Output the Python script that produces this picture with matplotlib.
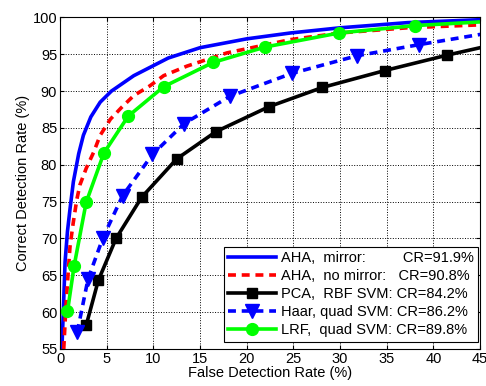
import matplotlib
matplotlib.use("Agg")
import matplotlib.pyplot as plt

plt.rcParams['font.family'] = ['Liberation Sans', 'DejaVu Sans']

# AHA with mirror (smooth curve)
aha_m_x = [0.2, 0.35, 0.54, 0.8, 1.07, 1.43, 2.0, 2.5, 3.3, 4.3, 5.5, 7.9, 11.6, 15.0, 20.0, 24.7, 30.0, 37.2, 45.0]
aha_m_y = [55.0, 60.0, 66.8, 71.0, 74.0, 77.7, 81.5, 84.0, 86.5, 88.5, 90.0, 92.1, 94.5, 95.9, 97.1, 97.9, 98.6, 99.3, 99.7]

# AHA without mirror
aha_n_x = [0.4, 0.6, 0.8, 1.07, 1.4, 1.8, 2.14, 2.8, 3.6, 4.3, 5.4, 6.6, 7.9, 9.6, 11.1, 13.6, 17.9, 24.7, 30.0, 37.2, 45.0]
aha_n_y = [55.0, 60.0, 64.0, 68.9, 72.0, 75.3, 77.3, 79.5, 81.7, 84.0, 86.2, 87.8, 89.4, 90.7, 92.1, 93.4, 95.2, 97.0, 97.9, 98.6, 99.0]

# PCA, RBF SVM
pca_x = [2.8, 4.1, 6.0, 8.75, 12.5, 16.7, 22.4, 28.1, 34.8, 41.5, 45.0]
pca_y = [58.2, 64.3, 70.0, 75.6, 80.8, 84.5, 87.9, 90.5, 92.8, 94.9, 95.9]

# Haar, quad SVM
haar_x = [1.85, 3.0, 4.6, 6.7, 9.9, 13.3, 18.2, 24.8, 31.8, 38.4, 45.0]
haar_y = [57.3, 64.5, 70.1, 75.8, 81.4, 85.6, 89.3, 92.4, 94.8, 96.3, 97.7]

# LRF, quad SVM
lrf_x = [0.8, 1.5, 2.8, 4.7, 7.3, 11.1, 16.4, 22.0, 29.9, 38.0, 45.0]
lrf_y = [60.1, 66.2, 74.9, 81.6, 86.6, 90.6, 93.9, 96.0, 97.9, 98.9, 99.4]

labels = ["AHA,  mirror:         CR=91.9%",
          "AHA,  no mirror:   CR=90.8%",
          "PCA,  RBF SVM: CR=84.2%",
          "Haar, quad SVM: CR=86.2%",
          "LRF,  quad SVM: CR=89.8%"]

fig = plt.figure(figsize=(4.86, 3.86), dpi=100)
ax = fig.add_axes([0.1235, 0.096, 0.8645, 0.8587])

lw = 2.6
ax.plot(aha_m_x, aha_m_y, color=(0, 0, 1), lw=lw, label=labels[0])
ax.plot(aha_n_x, aha_n_y, color=(1, 0, 0), lw=lw, ls=(0, (2.2, 1.6)), label=labels[1])
ax.plot(pca_x, pca_y, color='k', lw=lw, marker='s', ms=7, markevery=list(range(len(pca_x) - 1)), label=labels[2])
ax.plot(haar_x, haar_y, color=(0, 0, 1), lw=lw, ls=(0, (2.2, 1.6)), marker='v', ms=9.5,
        markevery=list(range(len(haar_x) - 1)), label=labels[3])
ax.plot(lrf_x, lrf_y, color=(0, 1, 0), lw=lw, marker='o', ms=8.5,
        markevery=list(range(len(lrf_x) - 1)), label=labels[4])

ax.set_xlim(0, 45)
ax.set_ylim(55, 100)
ax.set_xticks(range(0, 46, 5))
ax.set_yticks(range(55, 101, 5))
ax.tick_params(direction='in', top=True, right=True, labelsize=10.5, length=3, pad=2)
ax.grid(True, color='k', ls=':', lw=0.7)
for s in ax.spines.values():
    s.set_linewidth(0.8)

ax.set_xlabel("False Detection Rate (%)", fontsize=10.5, labelpad=0)
ax.set_ylabel("Correct Detection Rate (%)", fontsize=10.5, labelpad=2)

leg = ax.legend(loc='lower right', bbox_to_anchor=(0.995, 0.022), fontsize=10.5, numpoints=1,
                handlelength=3.3, labelspacing=0.28, handletextpad=0.3, borderpad=0.3,
                borderaxespad=0, fancybox=False, framealpha=1, edgecolor='k')
leg.get_frame().set_linewidth(0.8)

fig.savefig("out.png", dpi=100)
